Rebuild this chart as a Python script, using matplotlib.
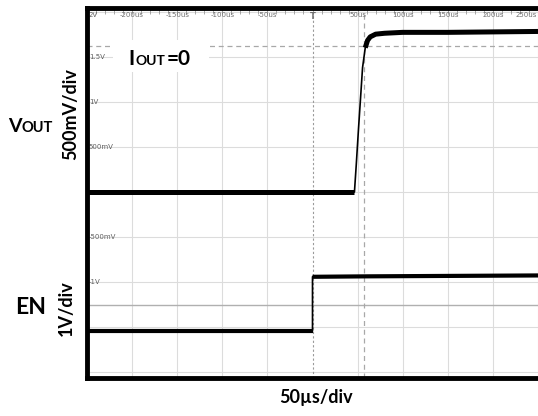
import numpy as np
import matplotlib
matplotlib.use("Agg")
import matplotlib.pyplot as plt
from matplotlib.patches import Rectangle

plt.rcParams['font.family'] = ['Lato', 'DejaVu Sans']

# scope capture: time in microseconds, levels in volts
vout_t = [-250, 46.5, 48.5, 51, 55.5, 58.5, 61, 64, 70, 80, 100, 150, 250]
vout_v = [0, 0, 0.30, 0.70, 1.38, 1.60, 1.68, 1.72, 1.75, 1.76, 1.77, 1.77, 1.78]
en_t = [-250, 0, 0, 60, 250]
en_v = [0, 0, 1.20, 1.21, 1.23]

time_labels = ["-200us", "-150us", "-100us", "-50us", "50us", "100us", "150us", "200us", "250us"]
time_label_pos = [-200, -150, -100, -50, 50, 100, 150, 200, 250]
volt_labels = ["2V", "1.5V", "1V", "500mV", "-500mV", "-1V"]
volt_label_div = [4, 3, 2, 1, -1, -2]

vout_scale = 0.5      # V per division
en_scale = 1.0        # V per division
en_offset = -3.08     # EN ground, in divisions
cursor_t = 57.6
cursor_v = 1.62

W, H = 538, 416
fig = plt.figure(figsize=(W / 100, H / 100), dpi=100)
ax = fig.add_axes([87 / W, 1 - 378 / H, 1 - 87 / W, 370 / H])


def px(x, y):
    return x / W, 1 - y / H


def small_caps(x, y, parts, gap=1):
    # draw pieces left to right on one baseline, each at its own size
    r = fig.canvas.get_renderer()
    for s, size in parts:
        t = fig.text(*px(x, y), s, fontsize=size, fontweight='bold', va='baseline', zorder=5)
        x += t.get_window_extent(r).width + gap


ax.set_xlim(-250, 250)
ax.set_ylim(-4.124, 4.08)

# graticule
for d in range(-4, 5):
    ax.axhline(d, color='#dcdcdc', lw=0.8, zorder=1)
for t in range(-200, 251, 50):
    if t != 0:
        ax.axvline(t, color='#dcdcdc', lw=0.8, zorder=1)
ax.axvline(0, color='#9a9a9a', lw=0.8, ls=(0, (2, 2)), zorder=1)
ax.axhline(-2.5, color='#b0b0b0', lw=1.0, zorder=1)

# cursors
ax.axvline(cursor_t, color='#a8a8a8', lw=0.9, ls=(0, (4, 3)), zorder=1.5)
ax.axhline(cursor_v / vout_scale, color='#a8a8a8', lw=0.9, ls=(0, (4, 3)), zorder=1.5)

# traces: thin edges, heavy flat levels
vd = np.array(vout_v) / vout_scale
ed = en_offset + np.array(en_v) / en_scale
ax.plot(vout_t, vd, color='black', lw=1.2, zorder=3)
ax.plot(vout_t[:2], vd[:2], color='black', lw=3.6, solid_capstyle='butt', zorder=3)
ax.plot(vout_t[5:], vd[5:], color='black', lw=3.6, solid_capstyle='butt', zorder=3)
ax.plot(en_t, ed, color='black', lw=1.2, zorder=3)
ax.plot(en_t[:2], ed[:2], color='black', lw=3.0, solid_capstyle='butt', zorder=3)
ax.plot(en_t[2:], ed[2:], color='black', lw=3.0, solid_capstyle='butt', zorder=3)

# scope annotations
for lab, t in zip(time_labels, time_label_pos):
    ax.text(min(t, 249), 3.93, lab, fontsize=5, color='#707070',
            ha='right' if t >= 250 else 'center', va='center',
            family='DejaVu Sans', zorder=2)
ax.text(0, 3.9, "T", fontsize=6, color='#707070', ha='center', va='center',
        family='DejaVu Sans', fontweight='bold', zorder=2)
for lab, d in zip(volt_labels, volt_label_div):
    ax.text(-248, d if d != 4 else 3.93, lab, fontsize=5, color='#606060', ha='left',
            va='center', family='DejaVu Sans', zorder=2)

# white patch behind the load label
ax.add_patch(Rectangle((-221.7, 2.66), 107.5, 0.71, facecolor='white',
                       edgecolor='none', zorder=2.5))

ax.set_xticks([])
ax.set_yticks([])
ax.set_xticks(np.arange(-250, 251, 10), minor=True)
ax.tick_params(which='minor', top=True, bottom=False, direction='in', length=4.5,
               width=0.6, color='#999999')
for s in ['left', 'top', 'bottom']:
    ax.spines[s].set_linewidth(3.5)
ax.spines['right'].set_visible(False)

# labels
small_caps(128, 65, [("I", 15), ("OUT", 10), ("=0", 15)])
small_caps(8, 132, [("V", 14), ("OUT", 10.5)], gap=0)
fig.text(*px(31, 308), "EN", fontsize=16.5, fontweight='bold', ha='center', va='center')

fig.text(*px(71, 114), "500mV/div", fontsize=13, fontweight='bold', rotation=90,
         ha='center', va='center')
fig.text(*px(66, 308), "1V/div", fontsize=13, fontweight='bold', rotation=90,
         ha='center', va='center')
fig.text(*px(316, 397), "50\u00b5s/div", fontsize=13, fontweight='bold',
         ha='center', va='center')

fig.savefig("out.png", dpi=100)
